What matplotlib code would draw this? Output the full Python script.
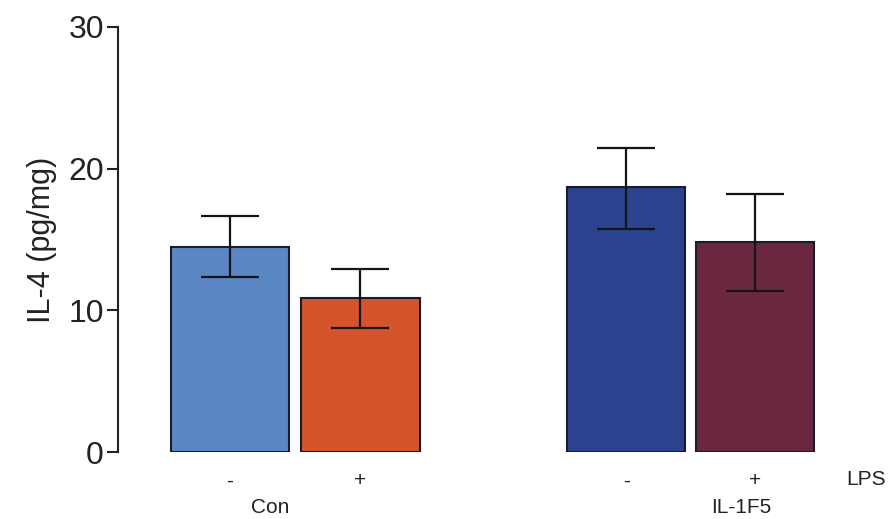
import matplotlib.pyplot as plt

plt.rcParams['font.family'] = ['Liberation Sans', 'DejaVu Sans']

# data
groups = ["Con", "IL-1F5"]
lps = ["-", "+", "-", "+"]
means = [14.5, 10.85, 18.7, 14.85]
err_lo = [2.15, 2.1, 2.95, 3.5]
err_hi = [2.15, 2.05, 2.75, 3.35]
colors = ["#5b87c5", "#d4552c", "#2b438f", "#6b2740"]

positions = [0, 1, 3.04, 4.03]

fig = plt.figure(figsize=(8.92, 5.19), dpi=100)
ax = fig.add_axes([0.132, 0.129, 0.80, 0.819])

ax.bar(positions, means, width=0.91, color=colors, edgecolor="#1b1b2a", linewidth=1.5, zorder=2)
ax.errorbar(positions, means, yerr=[err_lo, err_hi], fmt="none", ecolor="#151515",
            elinewidth=1.6, capsize=21, capthick=1.6, zorder=3)

ax.set_ylim(0, 30)
ax.set_xlim(-0.862, 4.615)
ax.set_yticks([0, 10, 20, 30])
ax.tick_params(axis="y", direction="out", length=8, width=1.5, labelsize=23, pad=2, colors="#222222")
ax.set_ylabel("IL-4 (pg/mg)", fontsize=22, color="#222222", labelpad=8)

ax.set_xticks(positions)
ax.set_xticklabels(lps, fontsize=15)
ax.tick_params(axis="x", length=0, pad=14, colors="#222222")

for sp in ["top", "right", "bottom"]:
    ax.spines[sp].set_visible(False)
ax.spines["left"].set_linewidth(1.5)
ax.spines["left"].set_color("#222222")

# group labels
ax.text(0.31, -0.13, groups[0], transform=ax.get_xaxis_transform(), ha="center", va="center", fontsize=15, color="#222222", clip_on=False)
ax.text(3.92, -0.13, groups[1], transform=ax.get_xaxis_transform(), ha="center", va="center", fontsize=15, color="#222222", clip_on=False)
ax.text(4.88, -0.065, "LPS", transform=ax.get_xaxis_transform(), ha="center", va="center", fontsize=15, color="#222222", clip_on=False)

fig.savefig("out.png", dpi=100)
